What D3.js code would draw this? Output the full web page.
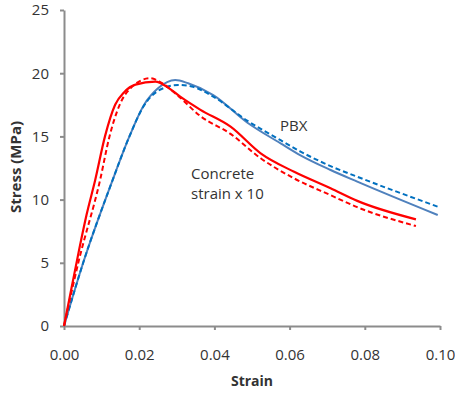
<!DOCTYPE html>
<html>
<head>
<meta charset="utf-8">
<script src="https://cdn.jsdelivr.net/npm/d3@7"></script>
<style>
  body { margin: 0; background: #fff; }
  svg { display: block; font-family: "Open Sans", sans-serif; }
</style>
</head>
<body>
<svg id="chart" width="455" height="394"></svg>
<script>
// [strain, stress MPa]
const concreteSolid = [
  [0, 0], [0.002, 3.0], [0.004, 6.0], [0.006, 8.8], [0.0083, 11.55], [0.0109, 15.0],
  [0.0136, 17.5], [0.016, 18.5], [0.019, 19.1], [0.0243, 19.33], [0.0275, 18.9],
  [0.0309, 18.14], [0.0363, 17.1], [0.0443, 15.77], [0.0523, 13.66], [0.0612, 12.2],
  [0.0709, 10.9], [0.078, 9.9], [0.0936, 8.44]
];
const concreteDashed = [
  [0, 0], [0.0038, 5.0], [0.0096, 11.55], [0.0121, 15.0], [0.0148, 17.5], [0.018, 18.9],
  [0.0229, 19.6], [0.0256, 19.3], [0.030, 18.3], [0.0363, 16.6], [0.0443, 15.2],
  [0.0523, 13.27], [0.0612, 11.68], [0.0709, 10.35], [0.078, 9.4], [0.0936, 7.91]
];
const pbxSolid = [
  [0, 0], [0.0051, 5.0], [0.0125, 11.2], [0.0174, 15.0], [0.0213, 17.5], [0.025, 18.8],
  [0.0296, 19.46], [0.033, 19.2], [0.0397, 18.27], [0.0487, 16.1], [0.0576, 14.45],
  [0.0629, 13.5], [0.0709, 12.34], [0.078, 11.42], [0.0994, 8.78]
];
const pbxDashed = [
  [0, 0], [0.0051, 5.0], [0.0125, 11.2], [0.0174, 15.0], [0.021, 17.3], [0.025, 18.6],
  [0.0304, 19.07], [0.034, 18.95], [0.0397, 18.14], [0.0487, 16.25], [0.0576, 14.7],
  [0.0629, 13.8], [0.0709, 12.65], [0.078, 11.81], [0.0994, 9.44]
];
const xTicks = [0, 0.02, 0.04, 0.06, 0.08, 0.10];
const yTicks = [0, 5, 10, 15, 20, 25];

const svg = d3.select("#chart");
const axisColor = "#8c8c8c";
const textColor = "#333";

const x = d3.scaleLinear().domain([0, 0.10]).range([64, 440]);
const y = d3.scaleLinear().domain([0, 25]).range([326, 10]);

// axes
const xAxis = svg.append("g")
  .attr("transform", "translate(0,326)")
  .call(d3.axisBottom(x).tickValues(xTicks).tickFormat(d3.format(".2f"))
    .tickSizeInner(4).tickSizeOuter(0).tickPadding(19));

const yAxis = svg.append("g")
  .attr("transform", "translate(64,0)")
  .call(d3.axisLeft(y).tickValues(yTicks).tickFormat(d3.format("d"))
    .tickSizeInner(4).tickSizeOuter(0).tickPadding(11));

[xAxis, yAxis].forEach(g => {
  g.select(".domain").attr("stroke", axisColor).attr("stroke-width", 2);
  g.selectAll(".tick line").attr("stroke", axisColor).attr("stroke-width", 2);
  g.selectAll(".tick text").attr("fill", textColor)
    .style("font-size", "15px").style("font-family", "'Open Sans', sans-serif");
});

// axis titles
svg.append("text")
  .attr("x", 252).attr("y", 386)
  .attr("text-anchor", "middle")
  .attr("fill", textColor)
  .style("font-size", "14px").style("font-weight", "bold")
  .text("Strain");

svg.append("text")
  .attr("transform", "translate(21,167) rotate(-90)")
  .attr("text-anchor", "middle")
  .attr("fill", textColor)
  .style("font-size", "15px").style("font-weight", "bold")
  .text("Stress (MPa)");

// curves
const line = d3.line()
  .x(d => x(d[0]))
  .y(d => y(d[1]))
  .curve(d3.curveMonotoneX);

const series = [
  { data: pbxSolid, color: "#4f81bd", dash: null, width: 2 },
  { data: pbxDashed, color: "#0070c0", dash: "5,3", width: 2 },
  { data: concreteDashed, color: "#ff0000", dash: "5,3", width: 2 },
  { data: concreteSolid, color: "#ff0000", dash: null, width: 2.2 }
];

svg.append("g")
  .selectAll("path")
  .data(series)
  .join("path")
  .attr("fill", "none")
  .attr("stroke", d => d.color)
  .attr("stroke-width", d => d.width)
  .attr("stroke-dasharray", d => d.dash)
  .attr("stroke-linejoin", "round")
  .attr("d", d => line(d.data));

// annotations
const notes = svg.append("g")
  .attr("fill", textColor)
  .style("font-size", "15px");
notes.append("text").attr("x", 280).attr("y", 131).text("PBX");
notes.append("text").attr("x", 191).attr("y", 179).text("Concrete");
notes.append("text").attr("x", 191).attr("y", 199).text("strain x 10");
</script>
</body>
</html>
